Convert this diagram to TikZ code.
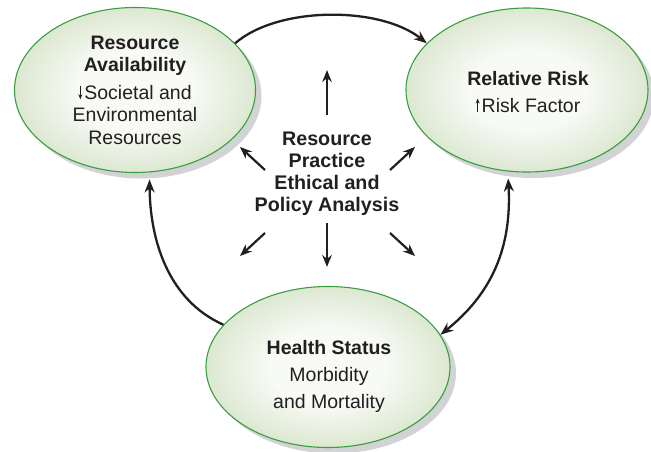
\documentclass[tikz,border=0pt]{standalone}
\usepackage{fontspec}
\setmainfont{Liberation Sans}
\usetikzlibrary{arrows.meta,shapes.geometric}
\definecolor{ink}{HTML}{231F20}
\definecolor{rim}{HTML}{3A9D40}
\definecolor{gedge}{HTML}{A8C58F}
\definecolor{gmid}{HTML}{C9DCB9}
\definecolor{gin}{HTML}{F8FAF5}
\definecolor{shadowc}{HTML}{D2D3D5}
\pgfdeclareradialshading{bubble}{\pgfpoint{0bp}{0bp}}{color(0bp)=(gin); color(12bp)=(gin); color(34bp)=(gmid); color(45bp)=(gedge); color(47.5bp)=(gmid); color(50bp)=(gedge)}
\newcommand{\myDown}{\tikz[baseline=0pt]\draw[ink,line width=0.8pt,-{Stealth[length=5pt,width=4pt]}] (0pt,13.5pt)--(0pt,0pt);\hspace{2pt}}
\newcommand{\myUp}{\tikz[baseline=0pt]\draw[ink,line width=0.8pt,-{Stealth[length=5pt,width=4pt]}] (0pt,0pt)--(0pt,13.5pt);\hspace{2pt}}
\tikzset{
  bub/.style={ellipse, draw=rim, line width=1.1pt, shading=bubble, inner sep=0pt},
  shad/.style={ellipse, fill=shadowc, inner sep=0pt},
  txt/.style={text=ink, align=center, inner sep=0pt, font=\fontsize{19.5}{22.5}\selectfont},
  ctxt/.style={text=ink, align=center, inner sep=0pt, font=\bfseries\fontsize{19.7}{22}\selectfont},
  con/.style={draw=ink, line width=2.3pt, -{Stealth[length=13pt,width=10pt]}},
  con2/.style={draw=ink, line width=2.3pt, {Stealth[length=13pt,width=10pt]}-{Stealth[length=13pt,width=10pt]}},
  ray/.style={draw=ink, line width=2.2pt, -{Stealth[length=12pt,width=9.5pt]}}
}
\begin{document}
\begin{tikzpicture}[x=1pt,y=-1pt]
\useasboundingbox (0,0) rectangle (651,452);
% shadows
\node[shad, minimum width=241pt, minimum height=165pt] (ras) at (141,96) {};
\node[shad, minimum width=242pt, minimum height=164pt] (rrs) at (533,96) {};
\node[shad, minimum width=244pt, minimum height=161pt] (hss) at (334,373) {};
% ellipses
\node[bub, minimum width=241pt, minimum height=165pt] (ra) at (135,90) {};
\node[bub, minimum width=242pt, minimum height=164pt] (rr) at (527,90) {};
\node[bub, minimum width=244pt, minimum height=161pt] (hs) at (328,367) {};
% texts
\node[txt] (ratx) at (135,90.2) {\textbf{Resource}\\\textbf{Availability}\\[5pt]\myDown Societal and\\Environmental\\Resources};
\node[txt] (rrtx) at (528,91.7) {\textbf{Relative Risk}\\[4.5pt]\myUp Risk Factor};
\node[txt] (hstx) at (329,376) {\textbf{Health Status}\\[4.5pt]Morbidity\\[4.5pt]and Mortality};
\node[ctxt] (pa) at (327,174) {Resource\\Practice\\Ethical and\\Policy Analysis};
% curved connectors
\draw[con] (ra.25.6) .. controls (278,6) and (380,6) .. (rr.155.3);
\draw[con2] ([yshift=-7pt]rr.257.2) .. controls (512,250) and (490,295) .. (hs.16.6);
\draw[con] (hs.158.2) .. controls (168,300) and (150,240) .. ([yshift=-7pt]ra.280.8);
% rays
\coordinate (u0) at (327,115); \coordinate (u1) at (327,70);
\coordinate (ul0) at (265,170); \coordinate (ul1) at (240,147);
\coordinate (ur0) at (390,170); \coordinate (ur1) at (415,147);
\coordinate (dl0) at (265,233); \coordinate (dl1) at (240,256);
\coordinate (d0) at (327,223); \coordinate (d1) at (327,267);
\coordinate (dr0) at (390,233); \coordinate (dr1) at (415,256);
\draw[ray] (u0) -- (u1);
\draw[ray] (ul0) -- (ul1);
\draw[ray] (ur0) -- (ur1);
\draw[ray] (dl0) -- (dl1);
\draw[ray] (d0) -- (d1);
\draw[ray] (dr0) -- (dr1);
\end{tikzpicture}
\end{document}
